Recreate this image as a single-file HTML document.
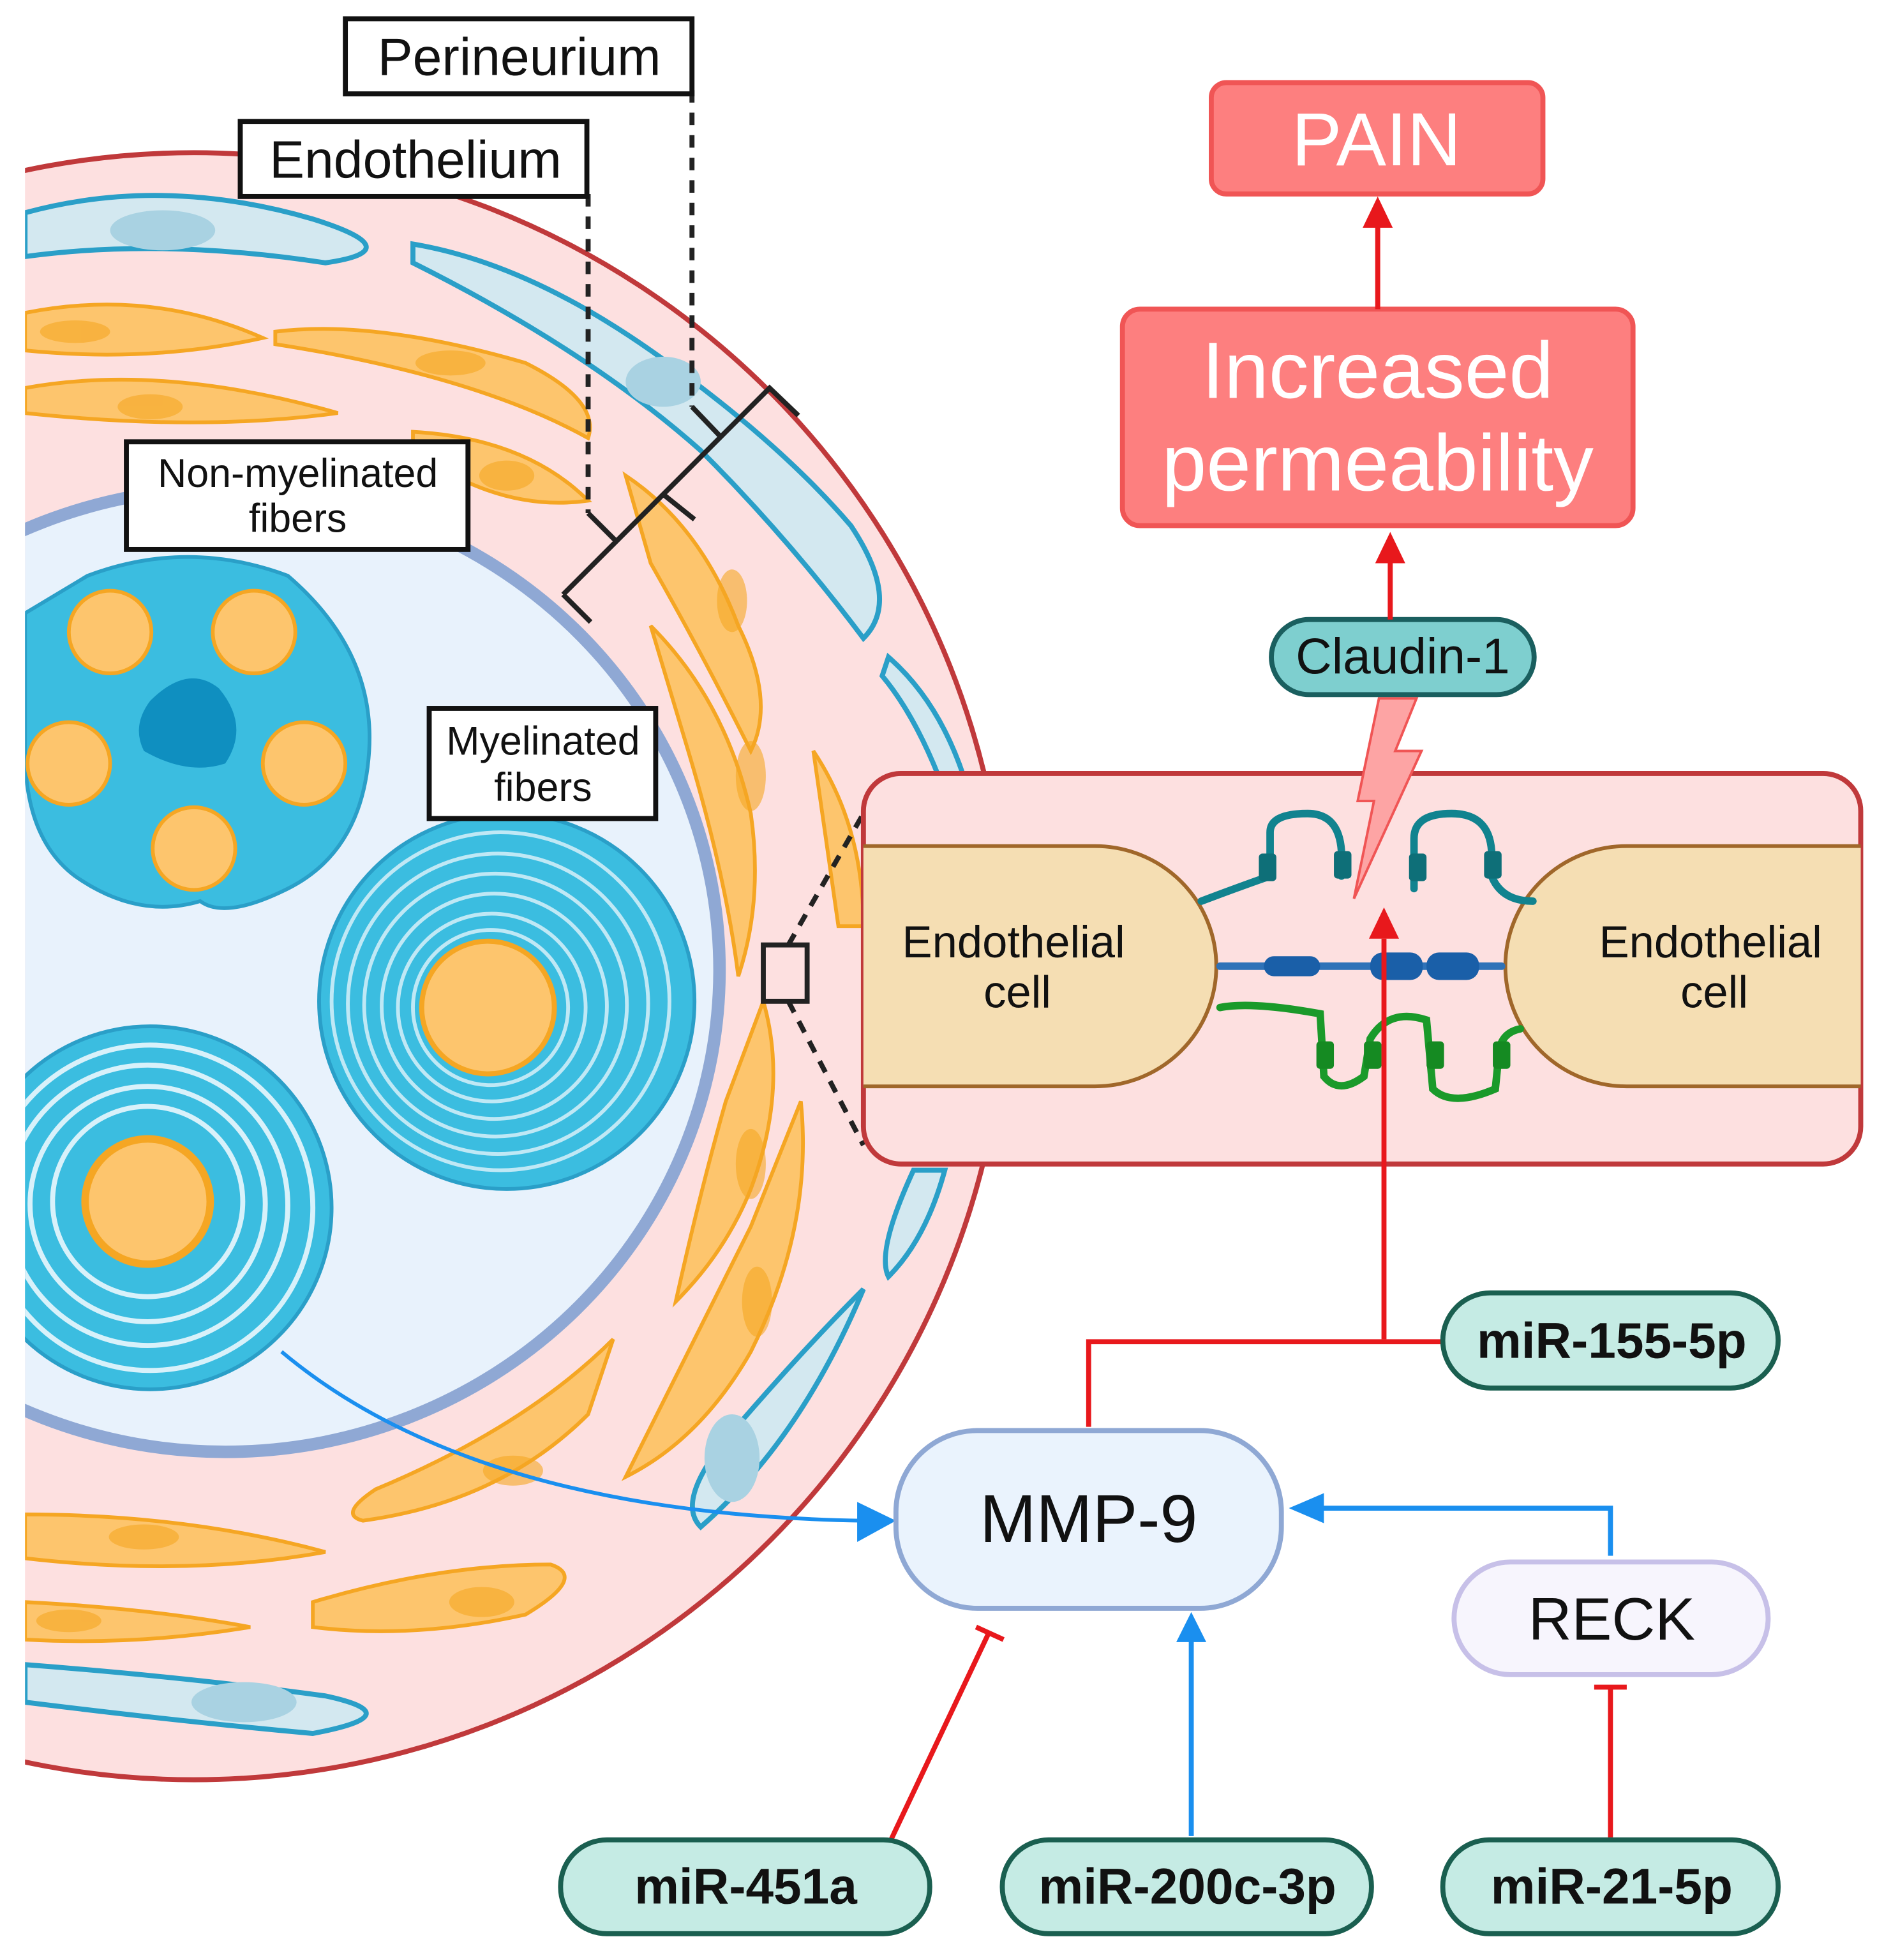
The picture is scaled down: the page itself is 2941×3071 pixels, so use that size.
<!DOCTYPE html>
<html><head><meta charset="utf-8"><style>
html,body{margin:0;padding:0;background:#fff;}
svg{display:block;}
text{font-family:"Liberation Sans",sans-serif;}
</style></head><body>
<svg width="2941" height="3071" viewBox="0 0 1500 1566" preserveAspectRatio="none" xmlns="http://www.w3.org/2000/svg">
<defs>
<clipPath id="cl"><rect x="20" y="0" width="1500" height="1566"/></clipPath>
</defs>
<g clip-path="url(#cl)">
<circle cx="155" cy="772" r="650" fill="#fde0e0" stroke="#c0393b" stroke-width="4"/>
<g fill="#d3e8f0" stroke="#2a9fc8" stroke-width="4">
<path d="M20,170 Q130,140 250,175 Q330,200 260,210 Q130,190 20,205 z"/>
<ellipse cx="130" cy="184" rx="42" ry="16" fill="#a9d2e2" stroke="none"/>
<path d="M330,195 Q420,210 520,280 Q620,350 680,420 Q720,480 690,510 Q630,430 560,360 Q470,280 330,210 z"/>
<ellipse cx="530" cy="305" rx="30" ry="20" fill="#a9d2e2" stroke="none"/>
<path d="M710,525 Q750,560 770,620 L750,620 Q730,570 705,540 z"/>
<path d="M755,935 Q740,990 710,1020 Q700,1000 730,935 z"/>
<path d="M690,1030 Q640,1150 560,1220 Q540,1200 580,1150 Q640,1080 690,1030 z"/>
<ellipse cx="585" cy="1165" rx="22" ry="35" fill="#a9d2e2" stroke="none"/>
<path d="M20,1330 Q150,1340 260,1355 Q330,1370 250,1385 Q140,1375 20,1360 z"/>
<ellipse cx="195" cy="1360" rx="42" ry="16" fill="#a9d2e2" stroke="none"/>
</g>
<g fill="#fdc56d" stroke="#f5a623" stroke-width="3">
<path d="M20,250 Q120,230 210,270 Q120,290 20,280 z"/>
<path d="M220,265 Q300,255 420,290 Q480,320 470,350 Q380,300 220,275 z"/>
<path d="M20,310 Q130,290 270,330 Q160,345 20,330 z"/>
<path d="M330,345 Q420,350 470,400 Q400,410 330,360 z"/>
<path d="M500,380 Q560,420 590,500 Q620,560 600,600 Q560,520 520,450 z"/>
<path d="M520,500 Q580,560 600,650 Q610,720 590,780 Q580,700 550,600 z"/>
<path d="M650,600 Q690,660 690,740 L670,740 Q660,670 650,600 z"/>
<path d="M610,800 Q630,870 600,950 Q580,1000 540,1040 Q560,950 580,880 z"/>
<path d="M640,880 Q650,980 600,1080 Q560,1150 500,1180 Q550,1080 600,980 z"/>
<path d="M490,1070 Q420,1140 300,1190 Q270,1210 290,1215 Q400,1200 470,1130 z"/>
<path d="M20,1210 Q150,1210 260,1240 Q150,1260 20,1245 z"/>
<path d="M250,1280 Q350,1250 440,1250 Q470,1260 420,1290 Q330,1310 250,1300 z"/>
<path d="M20,1280 Q120,1285 200,1300 Q110,1315 20,1310 z"/>
</g>
<g fill="#f5a623" opacity="0.6">
<ellipse cx="60" cy="265" rx="28" ry="9"/><ellipse cx="360" cy="290" rx="28" ry="10"/>
<ellipse cx="120" cy="325" rx="26" ry="10"/><ellipse cx="405" cy="380" rx="22" ry="12"/>
<ellipse cx="585" cy="480" rx="12" ry="25"/><ellipse cx="600" cy="620" rx="12" ry="28"/>
<ellipse cx="600" cy="930" rx="12" ry="28"/><ellipse cx="605" cy="1040" rx="12" ry="28"/>
<ellipse cx="410" cy="1175" rx="24" ry="12"/><ellipse cx="115" cy="1228" rx="28" ry="10"/>
<ellipse cx="385" cy="1280" rx="26" ry="12"/><ellipse cx="55" cy="1295" rx="26" ry="9"/>
</g>
<ellipse cx="180" cy="775" rx="395" ry="385" fill="#e8f2fc" stroke="#8fa8d4" stroke-width="10"/>
<path d="M70,460 Q150,430 230,460 Q300,520 295,600 Q290,680 230,710 Q180,735 160,720 Q110,735 60,700 Q20,670 20,600 L20,490 z" fill="#3bbde0" stroke="#2a9fc8" stroke-width="3"/>
<path d="M120,560 Q150,530 175,550 Q200,580 180,610 Q150,620 115,600 Q105,580 120,560 z" fill="#0f8fc0"/>
<g fill="#fdc56d" stroke="#f5a623" stroke-width="3">
<circle cx="88" cy="505" r="33"/><circle cx="203" cy="505" r="33"/>
<circle cx="55" cy="610" r="33"/><circle cx="243" cy="610" r="33"/>
<circle cx="155" cy="678" r="33"/>
</g>
<circle cx="405" cy="800" r="150" fill="#3bbde0" stroke="#2a9fc8" stroke-width="3"/>
<g fill="none" stroke="#bfe8f5" stroke-width="3">
<circle cx="400" cy="800" r="135"/><circle cx="398" cy="802" r="120"/><circle cx="396" cy="803" r="105"/>
<circle cx="395" cy="804" r="90"/><circle cx="393" cy="805" r="75"/><circle cx="392" cy="805" r="62"/>
</g>
<circle cx="390" cy="805" r="53" fill="#fdc56d" stroke="#f5a623" stroke-width="4"/>
<circle cx="120" cy="965" r="145" fill="#3bbde0" stroke="#2a9fc8" stroke-width="3"/>
<g fill="none" stroke="#d8f1fa" stroke-width="4">
<circle cx="120" cy="965" r="130"/><circle cx="118" cy="963" r="112"/><circle cx="118" cy="962" r="94"/><circle cx="118" cy="960" r="76"/>
</g>
<circle cx="118" cy="960" r="50" fill="#fdc56d" stroke="#f5a623" stroke-width="6"/>
</g>
<g stroke="#222" stroke-width="4" fill="none">
<path d="M553,72 L553,325" stroke-dasharray="10,8"/>
<path d="M470,155 L470,410" stroke-dasharray="10,8"/>
<path d="M450,475 L615,310 L638,332 M450,475 L472,497 M530,395 L555,415 M553,325 L575,348 M470,410 L492,432"/>
<rect x="610" y="755" width="35" height="45"/>
<path d="M630,755 L690,650 M630,800 L690,915" stroke-dasharray="10,8"/>
</g>
<g fill="#fff" stroke="#111" stroke-width="4">
<rect x="276" y="15" width="277" height="60"/>
<rect x="192" y="97" width="277" height="60"/>
<rect x="101" y="353" width="273" height="86"/>
<rect x="343" y="566" width="181" height="88"/>
</g>
<g fill="#111" text-anchor="middle">
<text x="415" y="60" font-size="42">Perineurium</text>
<text x="332" y="142" font-size="42">Endothelium</text>
<text x="238" y="389" font-size="32">Non-myelinated</text>
<text x="238" y="425" font-size="32">fibers</text>
<text x="434" y="603" font-size="32">Myelinated</text>
<text x="434" y="640" font-size="32">fibers</text>
</g>
<rect x="690" y="618" width="797" height="312" rx="30" fill="#fde0e0" stroke="#c0393b" stroke-width="4"/>
<path d="M690,676 L875,676 A97,96 0 0 1 875,868 L690,868" fill="#f5deb3" stroke="#a0672a" stroke-width="3"/>
<path d="M1487,676 L1300,676 A97,96 0 0 0 1300,868 L1487,868" fill="#f5deb3" stroke="#a0672a" stroke-width="3"/>
<text x="810" y="765" font-size="36" text-anchor="middle" fill="#111">Endothelial</text>
<text x="813" y="805" font-size="36" text-anchor="middle" fill="#111">cell</text>
<text x="1367" y="765" font-size="36" text-anchor="middle" fill="#111">Endothelial</text>
<text x="1370" y="805" font-size="36" text-anchor="middle" fill="#111">cell</text>
<g fill="none" stroke-width="6" stroke-linecap="round">
<path d="M960,720 Q1000,705 1015,700 L1015,665 Q1015,650 1045,650 Q1070,650 1072,680 L1072,700" stroke="#11838f"/>
<path d="M1130,710 L1130,670 Q1130,650 1160,650 Q1190,650 1192,680 L1192,700 Q1200,720 1225,720" stroke="#11838f"/>
<path d="M975,805 Q1000,800 1055,810 L1058,860 Q1070,875 1090,860 L1095,830 Q1110,805 1140,815 L1145,870 Q1160,885 1195,870 L1198,840 Q1200,825 1215,822" stroke="#1a9a2a"/>
<path d="M975,772 L1200,772" stroke="#2f72b8"/>
</g>
<g fill="#1a5fa8"><rect x="1010" y="764" width="45" height="16" rx="8"/><rect x="1095" y="761" width="42" height="22" rx="10"/><rect x="1140" y="761" width="42" height="22" rx="10"/></g>
<g fill="#0e6f78"><rect x="1006" y="682" width="14" height="22" rx="3"/><rect x="1066" y="680" width="14" height="22" rx="3"/><rect x="1126" y="682" width="14" height="22" rx="3"/><rect x="1186" y="680" width="14" height="22" rx="3"/></g>
<g fill="#158a22"><rect x="1052" y="832" width="14" height="22" rx="3"/><rect x="1090" y="832" width="14" height="22" rx="3"/><rect x="1140" y="832" width="14" height="22" rx="3"/><rect x="1193" y="832" width="14" height="22" rx="3"/></g>
<path d="M1102,558 L1132,558 L1115,600 L1136,600 L1082,718 L1098,640 L1085,640 z" fill="#fda4a4" stroke="#f05555" stroke-width="2"/>
<rect x="968" y="66" width="265" height="89" rx="12" fill="#fd7f7f" stroke="#f05555" stroke-width="4"/>
<text x="1100" y="132" font-size="60" fill="#fff" text-anchor="middle">PAIN</text>
<rect x="897" y="247" width="408" height="173" rx="14" fill="#fd7f7f" stroke="#f05555" stroke-width="4"/>
<text x="1101" y="318" font-size="64" fill="#fff" text-anchor="middle">Increased</text>
<text x="1101" y="392" font-size="64" fill="#fff" text-anchor="middle">permeability</text>
<rect x="1016" y="495" width="210" height="60" rx="30" fill="#7ecfcf" stroke="#1a5f5f" stroke-width="4"/>
<text x="1121" y="538" font-size="40" fill="#111" text-anchor="middle">Claudin-1</text>
<g stroke="#e8181c" stroke-width="4" fill="none">
<path d="M1101,247 L1101,180"/>
<path d="M1111,495 L1111,448"/>
<path d="M1106,1070 L1106,750"/>
<path d="M870,1140 L870,1072 L1155,1072"/>
<path d="M712,1470 L790,1305 M780,1300 L802,1310"/>
<path d="M1287,1468 L1287,1348 M1274,1348 L1300,1348"/>
</g>
<g fill="#e8181c">
<path d="M1089,182 L1101,157 L1113,182 z"/>
<path d="M1099,450 L1111,425 L1123,450 z"/>
<path d="M1094,750 L1106,725 L1118,750 z"/>
</g>
<g stroke="#1a8fef" stroke-width="4" fill="none">
<path d="M952,1467 L952,1310"/>
<path d="M1287,1243 L1287,1205 L1055,1205"/>
<path d="M225,1080 Q380,1210 690,1215" stroke-width="3"/>
</g>
<g fill="#1a8fef">
<path d="M940,1312 L952,1288 L964,1312 z"/>
<path d="M1058,1193 L1030,1205 L1058,1217 z"/>
<path d="M685,1200 L716,1215 L685,1232 z"/>
</g>
<rect x="716" y="1143" width="308" height="142" rx="65" fill="#eaf3fd" stroke="#8fa8d4" stroke-width="4"/>
<text x="870" y="1232" font-size="54" fill="#111" text-anchor="middle">MMP-9</text>
<rect x="1162" y="1248" width="251" height="90" rx="45" fill="#f7f5fd" stroke="#c7c0e8" stroke-width="4"/>
<text x="1288" y="1310" font-size="48" fill="#111" text-anchor="middle">RECK</text>
<g fill="#c5ebe4" stroke="#1a5f50" stroke-width="4">
<rect x="1153" y="1033" width="268" height="76" rx="38"/>
<rect x="448" y="1470" width="295" height="75" rx="37"/>
<rect x="801" y="1470" width="295" height="75" rx="37"/>
<rect x="1153" y="1470" width="268" height="75" rx="37"/>
</g>
<g font-size="40" font-weight="bold" fill="#111" text-anchor="middle">
<text x="1288" y="1085">miR-155-5p</text>
<text x="596" y="1521">miR-451a</text>
<text x="949" y="1521">miR-200c-3p</text>
<text x="1288" y="1521">miR-21-5p</text>
</g>
</svg>
</body></html>
